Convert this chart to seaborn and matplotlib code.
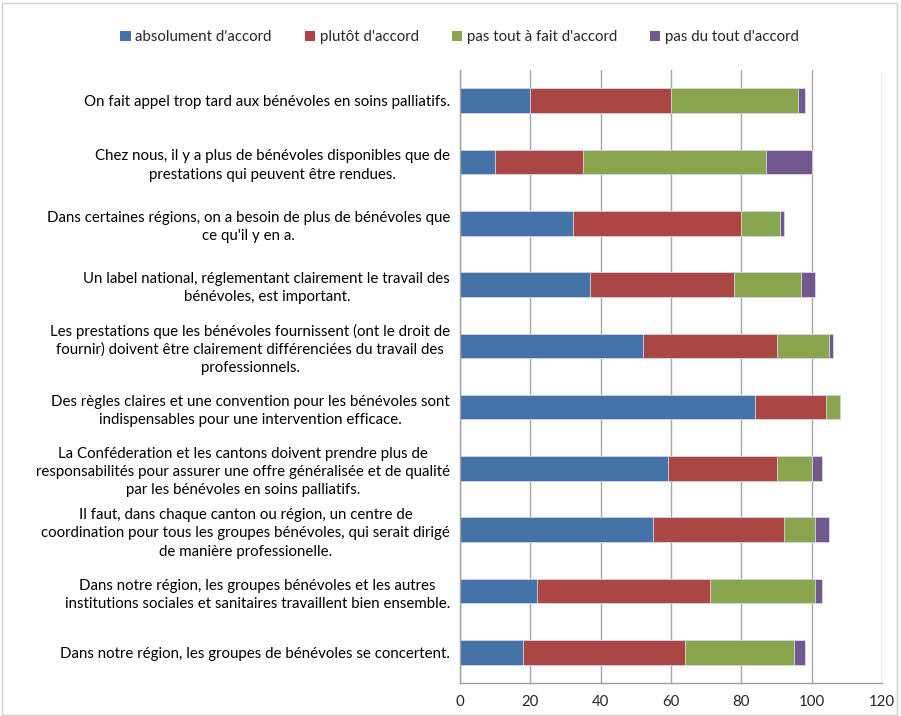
import matplotlib
matplotlib.use("Agg")
import matplotlib.pyplot as plt
import seaborn as sns
import pandas as pd
import numpy as np
from matplotlib.patches import Patch, Rectangle

categories = [
    "On fait appel trop tard aux bénévoles en soins palliatifs.",
    "Chez nous, il y a plus de bénévoles disponibles que de\nprestations qui peuvent être rendues.",
    "Dans certaines régions, on a besoin de plus de bénévoles que\nce qu'il y en a.",
    "Un label national, réglementant clairement le travail des\nbénévoles, est important.",
    "Les prestations que les bénévoles fournissent (ont le droit de\nfournir) doivent être clairement différenciées du travail des\nprofessionnels.",
    "Des règles claires et une convention pour les bénévoles sont\nindispensables pour une intervention efficace.",
    "La Conféderation et les cantons doivent prendre plus de\nresponsabilités pour assurer une offre généralisée et de qualité\npar les bénévoles en soins palliatifs.",
    "Il faut, dans chaque canton ou région, un centre de\ncoordination pour tous les groupes bénévoles, qui serait dirigé\nde manière professionelle.",
    "Dans notre région, les groupes bénévoles et les autres\ninstitutions sociales et sanitaires travaillent bien ensemble.",
    "Dans notre région, les groupes de bénévoles se concertent.",
]
series_names = ["absolument d'accord", "plutôt d'accord", "pas tout à fait d'accord", "pas du tout d'accord"]
absolument = [20, 10, 32, 37, 52, 84, 59, 55, 22, 18]
plutot = [40, 25, 48, 41, 38, 20, 31, 37, 49, 46]
pas_tout_a_fait = [36, 52, 11, 19, 15, 4, 10, 9, 30, 31]
pas_du_tout = [2, 13, 1, 4, 1, 0, 3, 4, 2, 3]
x_ticks = [0, 20, 40, 60, 80, 100, 120]

colors = ["#4572A7", "#AA4643", "#89A54E", "#71588F"]

df = pd.DataFrame({
    "cat": categories,
    series_names[0]: absolument,
    series_names[1]: plutot,
    series_names[2]: pas_tout_a_fait,
    series_names[3]: pas_du_tout,
})
cum = df[series_names].cumsum(axis=1)

sns.set_style("white")
plt.rcParams["font.family"] = ["Lato", "DejaVu Sans"]

fig = plt.figure(figsize=(9.01, 7.16), dpi=100)
ax = fig.add_axes([0.5105, 0.0461, 0.4685, 0.8561])

for name, col in reversed(list(zip(series_names, colors))):
    sns.barplot(x=cum[name], y=df["cat"], orient="h", color=col, width=0.4,
                saturation=1, edgecolor="#d8d8e8", linewidth=0.6, ax=ax, order=categories)

ax.set_xlim(0, 120)
ax.set_xticks(x_ticks)
ax.set_ylim(len(categories) - 0.5, -0.5)
ax.set_xlabel("")
ax.set_ylabel("")
ax.xaxis.grid(True, color="#A6A6A6", linewidth=1.0)
ax.set_axisbelow(True)
for s in ["top", "right"]:
    ax.spines[s].set_visible(False)
for s in ["left", "bottom"]:
    ax.spines[s].set_color("#A0A0A0")
    ax.spines[s].set_linewidth(1.0)

ax.set_yticks(np.arange(len(categories)))
ax.set_yticklabels(categories, multialignment="center", linespacing=1.38)
ax.tick_params(axis="y", which="major", length=0, pad=7, labelsize=10.8, colors="#000000")
ax.set_yticks(np.arange(-0.5, len(categories), 1.0), minor=True)
ax.tick_params(axis="y", which="minor", length=5, color="#A0A0A0", direction="out")
ax.tick_params(axis="x", length=5, color="#A0A0A0", labelsize=10.8, pad=4)

handles = [Patch(facecolor=c, edgecolor="none", label=n) for n, c in zip(series_names, colors)]
fig.legend(handles=handles, loc="center", bbox_to_anchor=(0.51, 0.948), ncol=4, frameon=False,
           fontsize=10.8, handlelength=0.7, handleheight=0.7, handletextpad=0.3,
           columnspacing=2.2)

fig.patches.append(Rectangle((0.002, 0.002), 0.994, 0.994, transform=fig.transFigure,
                             fill=False, edgecolor="#D0D0D0", linewidth=1))

fig.savefig("out.png", dpi=100)
